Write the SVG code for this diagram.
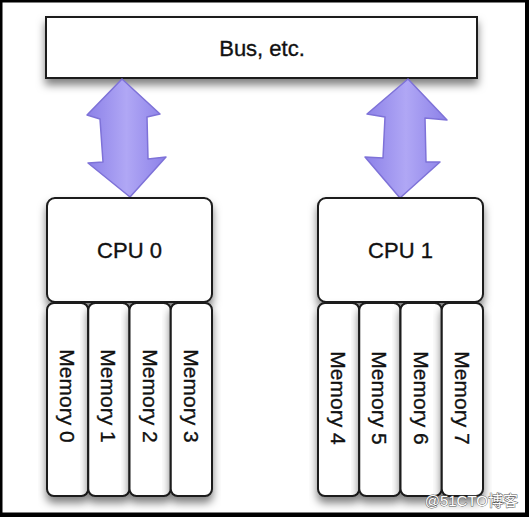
<svg xmlns="http://www.w3.org/2000/svg" width="529" height="517" viewBox="0 0 529 517">
  <defs>
    <filter id="shadow" x="-20%" y="-20%" width="140%" height="150%">
      <feDropShadow dx="0" dy="6" stdDeviation="4" flood-color="#000" flood-opacity="0.5"/>
    </filter>
    <linearGradient id="arrowFill" x1="0" y1="0" x2="1" y2="0">
      <stop offset="0" stop-color="#8c81e8"/>
      <stop offset="0.5" stop-color="#b0a7f5"/>
      <stop offset="1" stop-color="#8c81e8"/>
    </linearGradient>
  </defs>
  <style>
    .box { fill: #ffffff; stroke: #1a1a1a; stroke-width: 2; }
    .label { font-family: "Liberation Sans", Arial, sans-serif; font-size: 21px; fill: #111; stroke: #111; stroke-width: 0.35; }
    .big { font-size: 22px; }
    .arrow { fill: url(#arrowFill); stroke: #7e72d8; stroke-width: 1.5; stroke-linejoin: round; }
    .wm { font-family: "Liberation Sans", "Noto Sans CJK SC", sans-serif; font-size: 15px; fill: #ffffff; stroke: #555; stroke-width: 0.9; paint-order: stroke; }
  </style>
  <rect x="0" y="0" width="529" height="517" fill="#ffffff"/>

  <g id="bus">
    <rect class="box" x="46" y="17" width="431" height="61" filter="url(#shadow)"/>
    <text class="label big" x="262" y="56" text-anchor="middle">Bus, etc.</text>
  </g>

  <g id="connectors">
    <path class="arrow" d="M122,79 L160,114 L147,117 L148,159 L166,157 L130,197 L88,163 L103,162 L100,119 L87,115 Z"/>
    <path class="arrow" d="M408,79 L447,120 L425,118 L426,162 L440,162 L400,198 L365,157 L383,158 L385,117 L367,114 Z"/>
  </g>

  <g id="cpu0">
    <rect class="box" x="47" y="198" width="165" height="104" rx="8" filter="url(#shadow)"/>
    <text class="label big" x="129.5" y="258" text-anchor="middle">CPU 0</text>
  </g>
  <g id="mem0">
    <rect class="box" x="47" y="303" width="41.25" height="193" rx="7" filter="url(#shadow)"/>
    <text class="label" transform="translate(67.6,396) rotate(90)" x="0" y="7.5" text-anchor="middle">Memory 0</text>
  </g>
  <g id="mem1">
    <rect class="box" x="88.25" y="303" width="41.25" height="193" rx="7" filter="url(#shadow)"/>
    <text class="label" transform="translate(108.9,396) rotate(90)" x="0" y="7.5" text-anchor="middle">Memory 1</text>
  </g>
  <g id="mem2">
    <rect class="box" x="129.5" y="303" width="41.25" height="193" rx="7" filter="url(#shadow)"/>
    <text class="label" transform="translate(150.1,396) rotate(90)" x="0" y="7.5" text-anchor="middle">Memory 2</text>
  </g>
  <g id="mem3">
    <rect class="box" x="170.75" y="303" width="41.25" height="193" rx="7" filter="url(#shadow)"/>
    <text class="label" transform="translate(191.4,396) rotate(90)" x="0" y="7.5" text-anchor="middle">Memory 3</text>
  </g>

  <g id="cpu1">
    <rect class="box" x="318" y="198" width="165" height="104" rx="8" filter="url(#shadow)"/>
    <text class="label big" x="400.5" y="258" text-anchor="middle">CPU 1</text>
  </g>
  <g id="mem4">
    <rect class="box" x="318" y="303" width="41.25" height="193" rx="7" filter="url(#shadow)"/>
    <text class="label" transform="translate(338.6,398) rotate(90)" x="0" y="7.5" text-anchor="middle">Memory 4</text>
  </g>
  <g id="mem5">
    <rect class="box" x="359.25" y="303" width="41.25" height="193" rx="7" filter="url(#shadow)"/>
    <text class="label" transform="translate(379.9,398) rotate(90)" x="0" y="7.5" text-anchor="middle">Memory 5</text>
  </g>
  <g id="mem6">
    <rect class="box" x="400.5" y="303" width="41.25" height="193" rx="7" filter="url(#shadow)"/>
    <text class="label" transform="translate(421.1,398) rotate(90)" x="0" y="7.5" text-anchor="middle">Memory 6</text>
  </g>
  <g id="mem7">
    <rect class="box" x="441.75" y="303" width="41.25" height="193" rx="7" filter="url(#shadow)"/>
    <text class="label" transform="translate(462.4,398) rotate(90)" x="0" y="7.5" text-anchor="middle">Memory 7</text>
  </g>

  <text class="wm" x="518" y="506" text-anchor="end">@51CTO博客</text>

  <rect x="1" y="1" width="525.5" height="513" fill="none" stroke="#000" stroke-width="3"/>
  <rect x="0" y="513" width="529" height="4" fill="#000"/>
  <rect x="526" y="0" width="3" height="517" fill="#000"/>
</svg>
